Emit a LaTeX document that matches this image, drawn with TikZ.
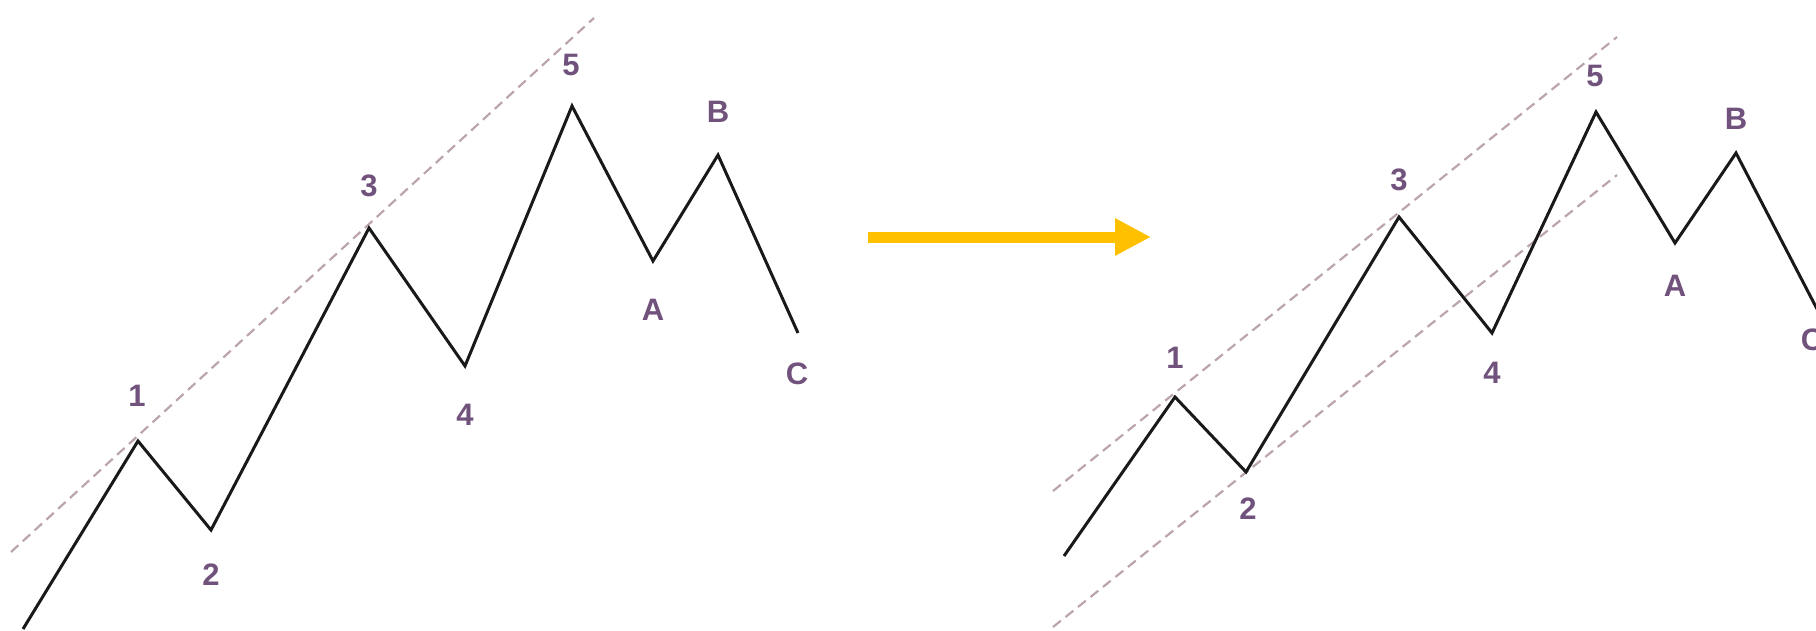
\documentclass[tikz,border=0pt]{standalone}
\usepackage{fontspec}
\setmainfont{Liberation Sans}
\usetikzlibrary{arrows.meta}
\definecolor{lbl}{RGB}{112,82,124}
\definecolor{dsh}{RGB}{188,164,174}
\definecolor{arr}{RGB}{255,192,0}
\begin{document}
\begin{tikzpicture}[x=1pt,y=-1pt,
  wave/.style={line width=3pt, black!90, line join=miter},
  guide/.style={line width=2.2pt, dsh, dash pattern=on 10pt off 6pt},
  lab/.style={text=lbl, font=\fontsize{31}{31}\selectfont\bfseries, inner sep=0pt, anchor=center},
  bigarrow/.style={arr, line width=11pt, -{Triangle[length=36pt,width=35pt]}}]
\useasboundingbox (0,0) rectangle (1816,630);
\clip (0,0) rectangle (1816,630);
% left chart points
\coordinate (L0) at (23,629);
\coordinate (L1) at (138,441);
\coordinate (L2) at (211,530);
\coordinate (L3) at (369,228);
\coordinate (L4) at (465,366);
\coordinate (L5) at (572,106);
\coordinate (LA) at (653,261);
\coordinate (LB) at (718,155);
\coordinate (LC) at (798,333);
\coordinate (LG1) at (11,552);
\coordinate (LG2) at (594,18);
\draw[guide] (LG1) -- (LG2);
\draw[wave] (L0) -- (L1) -- (L2) -- (L3) -- (L4) -- (L5) -- (LA) -- (LB) -- (LC);
\node[lab] (l1) at (137,396) {1};
\node[lab] (l2) at (211,575) {2};
\node[lab] (l3) at (369,186) {3};
\node[lab] (l4) at (465,415) {4};
\node[lab] (l5) at (571,65) {5};
\node[lab] (lA) at (653,310) {A};
\node[lab] (lB) at (718,112) {B};
\node[lab] (lC) at (797,374) {C};
% arrow
\coordinate (AS) at (868,237);
\coordinate (AE) at (1151,237);
\draw[bigarrow] (AS) -- (AE);
% right chart points
\coordinate (R0) at (1064,556);
\coordinate (R1) at (1175,397);
\coordinate (R2) at (1246,472);
\coordinate (R3) at (1399,217);
\coordinate (R4) at (1492,333);
\coordinate (R5) at (1596,112);
\coordinate (RA) at (1675,243);
\coordinate (RB) at (1736,153);
\coordinate (RC) at (1817,309);
\coordinate (RU1) at (1053,491);
\coordinate (RU2) at (1617,37);
\coordinate (RL1) at (1053,627);
\coordinate (RL2) at (1617,175);
\draw[guide] (RU1) -- (RU2);
\draw[guide] (RL1) -- (RL2);
\draw[wave] (R0) -- (R1) -- (R2) -- (R3) -- (R4) -- (R5) -- (RA) -- (RB) -- (RC);
\node[lab] (r1) at (1175,358) {1};
\node[lab] (r2) at (1248,509) {2};
\node[lab] (r3) at (1399,180) {3};
\node[lab] (r4) at (1492,373) {4};
\node[lab] (r5) at (1595,76) {5};
\node[lab] (rA) at (1675,286) {A};
\node[lab] (rB) at (1736,119) {B};
\node[lab] (rC) at (1812,340) {C};
\end{tikzpicture}
\end{document}
